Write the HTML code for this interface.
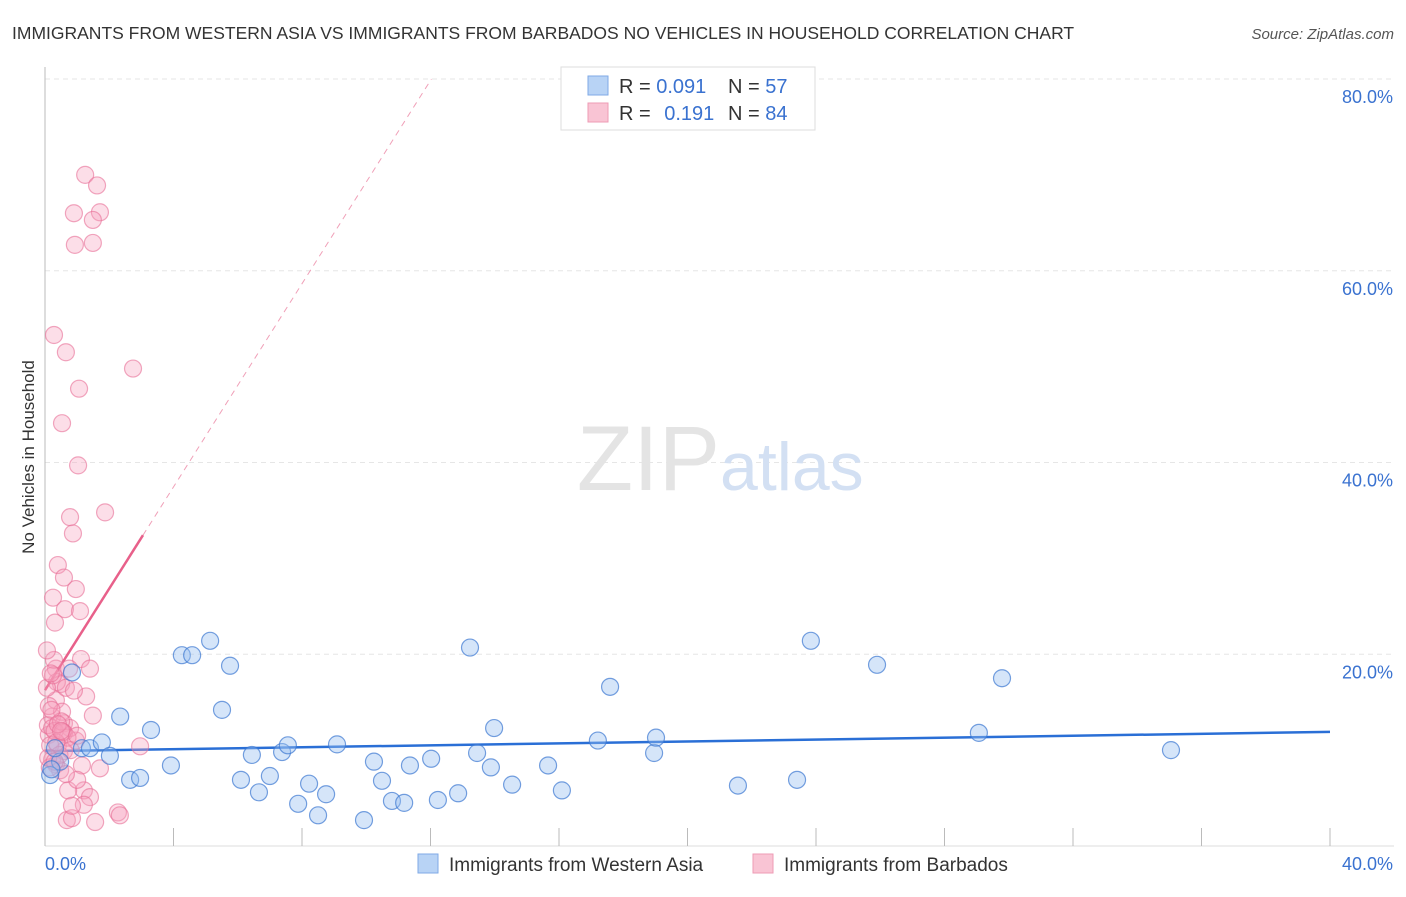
<!DOCTYPE html>
<html><head><meta charset="utf-8"><style>
body{margin:0;background:#fff;font-family:"Liberation Sans",sans-serif;}
svg text{font-family:"Liberation Sans",sans-serif;}
</style></head><body>
<svg id="chart" width="1406" height="892" viewBox="0 0 1406 892" xmlns="http://www.w3.org/2000/svg">
<text x="12" y="39" font-size="17.5" fill="#333">IMMIGRANTS FROM WESTERN ASIA VS IMMIGRANTS FROM BARBADOS NO VEHICLES IN HOUSEHOLD CORRELATION CHART</text>
<text x="1394" y="39" font-size="15" fill="#555" font-style="italic" text-anchor="end">Source: ZipAtlas.com</text>
<text transform="translate(34,457) rotate(-90)" font-size="17" fill="#333" text-anchor="middle">No Vehicles in Household</text>
<g id="grid"></g>
<g id="axes"></g>
<text x="720" y="490" font-size="92" fill="#e4e4e4" font-family="Liberation Serif" text-anchor="end">ZIP</text>
<text x="720" y="490" font-size="68" fill="#d3e0f3">atlas</text>
<g id="trends"></g>
<g id="points"></g>
<g>
<rect x="561" y="67" width="254" height="63" fill="#fff" stroke="#ddd"/>
<rect x="588" y="76" width="20" height="19" fill="#b8d3f5" stroke="#7fa9e6"/>
<rect x="588" y="103" width="20" height="19" fill="#f9c4d4" stroke="#ee9bb5"/>
<text x="619" y="93" font-size="20" fill="#333">R = <tspan fill="#3a72d0">0.091</tspan></text>
<text x="728" y="93" font-size="20" fill="#333">N = <tspan fill="#3a72d0">57</tspan></text>
<text x="619" y="120" font-size="20" fill="#333">R = <tspan fill="#3a72d0" dx="8">0.191</tspan></text>
<text x="728" y="120" font-size="20" fill="#333">N = <tspan fill="#3a72d0">84</tspan></text>
</g>
<g>
<rect x="418" y="854" width="20" height="19" fill="#b8d3f5" stroke="#7fa9e6"/>
<text x="449" y="871" font-size="19" fill="#333">Immigrants from Western Asia</text>
<rect x="753" y="854" width="20" height="19" fill="#f9c4d4" stroke="#ee9bb5"/>
<text x="784" y="871" font-size="19" fill="#333">Immigrants from Barbados</text>
</g>
</svg>
<script>
const xTicks=[0,4,8,12,16,20,24,28,32,36,40];
const yTicks=[20,40,60,80];
const yTickLabels=["20.0%","40.0%","60.0%","80.0%"];
const xEndLabels=["0.0%","40.0%"];
const blueX=[0.84,1.15,1.40,1.77,2.02,2.34,2.65,2.96,3.30,3.92,4.26,4.58,5.14,5.51,5.76,6.10,6.44,6.66,7.00,7.38,7.56,7.88,8.22,8.50,8.75,9.09,9.93,10.24,10.49,10.80,11.18,11.36,12.02,12.23,12.86,13.23,13.45,13.88,13.98,14.54,15.66,16.09,17.21,17.59,18.96,19.02,21.57,23.41,23.84,25.90,29.07,29.79,35.05,0.47,0.31,0.16,0.2];
const blueY=[18.1,10.2,10.2,10.8,9.4,13.5,6.9,7.1,12.1,8.4,19.9,19.9,21.4,14.2,18.8,6.9,9.5,5.6,7.3,9.8,10.5,4.4,6.5,3.2,5.4,10.6,2.7,8.8,6.8,4.7,4.5,8.4,9.1,4.8,5.5,20.7,9.7,8.2,12.3,6.4,8.4,5.8,11.0,16.6,9.7,11.3,6.3,6.9,21.4,18.9,11.8,17.5,10.0,8.8,10.2,7.4,8.0];
const pinkX=[1.25,1.62,0.90,1.71,1.49,0.93,1.49,0.28,0.65,2.74,1.06,0.53,1.03,0.78,1.87,0.87,0.40,0.59,0.96,0.25,0.62,1.09,0.31,1.12,0.34,0.75,0.50,1.28,0.34,0.22,0.59,0.12,1.49,0.96,1.15,1.71,1.21,1.40,2.96,2.27,2.33,0.68,0.84,1.56,0.34,0.72,0.40,0.22,0.47,0.53,0.37,0.12,0.06,0.59,1.00,1.21,0.84,0.16,0.28,1.40,0.06,0.65,0.09,0.22,0.78,0.59,0.3,0.45,0.7,0.15,0.5,0.25,0.9,0.35,0.55,0.2,0.8,0.1,0.4,0.65,0.3,0.5,1.0,0.18];
const pinkY=[70.0,68.9,66.0,66.1,65.3,62.7,62.9,53.3,51.5,49.8,47.7,44.1,39.7,34.3,34.8,32.6,29.3,28.0,26.8,25.9,24.7,24.5,23.3,19.5,18.5,18.5,16.9,15.6,15.2,13.5,12.8,11.6,13.6,11.0,8.4,8.1,5.8,5.1,10.4,3.5,3.2,2.7,2.9,2.5,8.5,5.8,10.5,9.0,7.9,14.0,17.1,14.6,16.5,9.9,6.9,4.3,4.2,10.5,19.4,18.5,20.4,16.5,12.6,12.3,12.3,11.8,12.0,9.5,11.3,8.2,13.0,17.8,16.2,10.8,11.9,14.2,10.0,9.2,12.7,7.5,8.8,12.0,11.5,18.0];
const blueTrend=[9.9,0.05];
const pinkTrend=[16.25,5.3];
const X0=45,X1=1330,Y0=846,Y80=79;
const sx=v=>X0+(X1-X0)*v/40;
const sy=v=>Y0-(Y0-Y80)*v/80;
const NS="http://www.w3.org/2000/svg";
function mk(tag,attrs,parent){const e=document.createElementNS(NS,tag);for(const k in attrs)e.setAttribute(k,attrs[k]);parent.appendChild(e);return e;}
const grid=document.getElementById('grid'),axes=document.getElementById('axes');
yTicks.forEach((t,i)=>{
 const l=mk('line',{x1:X0,x2:1394,y1:sy(t),y2:sy(t),stroke:'#e6e6e6','stroke-dasharray':'5,4'},grid);
 
 
 const tx=mk('text',{x:1393,y:sy(t)+24,'font-size':18,fill:'#3a72d0','text-anchor':'end'},axes);
 tx.textContent=yTickLabels[i];
 
 
});
const ya=mk('line',{x1:X0,x2:X0,y1:67,y2:Y0,stroke:'#bbb'},axes);


const xa=mk('line',{x1:X0,x2:1394,y1:Y0,y2:Y0,stroke:'#ddd'},axes);


xTicks.forEach(t=>{
 const l=mk('line',{x1:sx(t),x2:sx(t),y1:828,y2:Y0,stroke:'#bbb'},axes);
 
 
});
[[0,'start',45],[40,'end',1393]].forEach((a,i)=>{
 const tx=mk('text',{x:a[2],y:870,'font-size':18,fill:'#3a72d0','text-anchor':a[1]},axes);
 tx.textContent=xEndLabels[i];
 
 
});
const tr=document.getElementById('trends');
const bt=mk('line',{x1:sx(0),y1:sy(blueTrend[0]),x2:sx(40),y2:sy(blueTrend[0]+blueTrend[1]*40),stroke:'#2a6fd6','stroke-width':2.5},tr);


const pEnd=(80-pinkTrend[0])/pinkTrend[1];
const pd=mk('line',{x1:sx(3.05),y1:sy(pinkTrend[0]+pinkTrend[1]*3.05),x2:sx(pEnd),y2:sy(80),stroke:'#f0a0b8','stroke-width':1,'stroke-dasharray':'6,5'},tr);


const ps=mk('line',{x1:sx(0),y1:sy(pinkTrend[0]),x2:sx(3.05),y2:sy(pinkTrend[0]+pinkTrend[1]*3.05),stroke:'#e8608a','stroke-width':2.5},tr);


const pts=document.getElementById('points');
pinkX.forEach((x,i)=>{
 const c=mk('circle',{cx:sx(x),cy:sy(pinkY[i]),r:8.5,fill:'rgba(246,160,188,0.35)',stroke:'rgba(232,110,150,0.6)','stroke-width':1.2},pts);
 
 
});
blueX.forEach((x,i)=>{
 const c=mk('circle',{cx:sx(x),cy:sy(blueY[i]),r:8.5,fill:'rgba(150,190,240,0.4)',stroke:'rgba(60,120,210,0.7)','stroke-width':1.2},pts);
 
 
});
</script>
</body></html>
